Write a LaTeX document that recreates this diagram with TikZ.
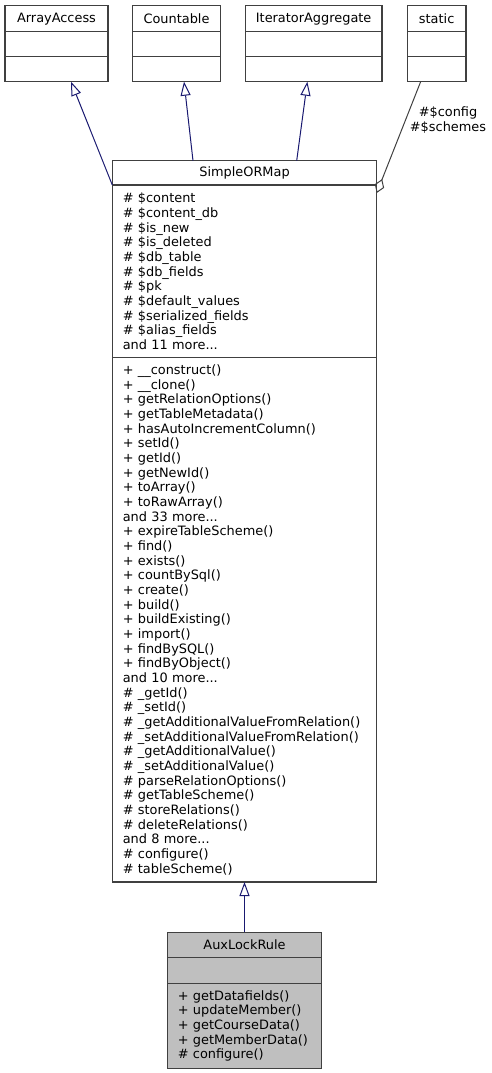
\documentclass[tikz,border=0pt]{standalone}
\usepackage{fontspec}
\setmainfont{DejaVu Sans}
\usepackage{xcolor}
\usepackage{tikz}
\usetikzlibrary{arrows.meta,positioning}
\definecolor{edgeblue}{HTML}{191970}
\definecolor{boxgray}{HTML}{404040}
\definecolor{mainfill}{HTML}{BFBFBF}
\tikzset{
    umlfont/.style={font=\fontsize{12.9}{14.66}\selectfont},
    classhead/.style={rectangle, draw=boxgray, line width=1.3pt, fill=white, umlfont, inner sep=0pt, outer sep=0pt, text centered},
    classpart/.style={rectangle, draw=boxgray, line width=1.3pt, fill=white, umlfont, inner xsep=10.5pt, inner ysep=0pt, outer sep=0pt, align=left},
    inherit/.style={draw=edgeblue, line width=1pt, -{Triangle[open, length=14pt, width=10pt]}},
    uses/.style={draw=boxgray, line width=1pt, -{Diamond[open, length=15pt, width=10pt]}}
}

\begin{document}
\begin{tikzpicture}[x=1pt, y=-1pt]
    \useasboundingbox (0,0) rectangle (491,1073);

    % interfaces on top
    \node[classhead, minimum width=103pt, minimum height=26pt, anchor=north west] (arrayaccess) at (5,5.7) {ArrayAccess};
    \node[classpart, text width=82pt, minimum height=25pt, below=0pt of arrayaccess] (arrayaccessattr) {};
    \node[classpart, text width=82pt, minimum height=25pt, below=0pt of arrayaccessattr] (arrayaccessmeth) {};

    \node[classhead, minimum width=87.6pt, minimum height=26pt, anchor=north west] (countable) at (132.7,5.7) {Countable};
    \node[classpart, text width=66.6pt, minimum height=25pt, below=0pt of countable] (countableattr) {};
    \node[classpart, text width=66.6pt, minimum height=25pt, below=0pt of countableattr] (countablemeth) {};

    \node[classhead, minimum width=136.7pt, minimum height=26pt, anchor=north west] (iteratoraggregate) at (245.3,5.7) {IteratorAggregate};
    \node[classpart, text width=115.7pt, minimum height=25pt, below=0pt of iteratoraggregate] (iteratoraggregateattr) {};
    \node[classpart, text width=115.7pt, minimum height=25pt, below=0pt of iteratoraggregateattr] (iteratoraggregatemeth) {};

    \node[classhead, minimum width=58.7pt, minimum height=26pt, anchor=north west] (static) at (407.3,5.7) {static};
    \node[classpart, text width=37.7pt, minimum height=25pt, below=0pt of static] (staticattr) {};
    \node[classpart, text width=37.7pt, minimum height=25pt, below=0pt of staticattr] (staticmeth) {};

    % base class
    \node[classhead, minimum width=264.4pt, minimum height=24.3pt, anchor=north west] (simpleormap) at (112.3,160.7) {SimpleORMap};
    \node[classpart, text width=243.4pt, minimum height=172.5pt, below=0pt of simpleormap] (simpleormapattr) {%
        \# \$content\\
        \# \$content\_db\\
        \# \$is\_new\\
        \# \$is\_deleted\\
        \# \$db\_table\\
        \# \$db\_fields\\
        \# \$pk\\
        \# \$default\_values\\
        \# \$serialized\_fields\\
        \# \$alias\_fields\\
        and 11 more...};
    \node[classpart, text width=243.4pt, minimum height=524.5pt, below=0pt of simpleormapattr] (simpleormapmeth) {%
        + \_\_construct()\\
        + \_\_clone()\\
        + getRelationOptions()\\
        + getTableMetadata()\\
        + hasAutoIncrementColumn()\\
        + setId()\\
        + getId()\\
        + getNewId()\\
        + toArray()\\
        + toRawArray()\\
        and 33 more...\\
        + expireTableScheme()\\
        + find()\\
        + exists()\\
        + countBySql()\\
        + create()\\
        + build()\\
        + buildExisting()\\
        + import()\\
        + findBySQL()\\
        + findByObject()\\
        and 10 more...\\
        \# \_getId()\\
        \# \_setId()\\
        \# \_getAdditionalValueFromRelation()\\
        \# \_setAdditionalValueFromRelation()\\
        \# \_getAdditionalValue()\\
        \# \_setAdditionalValue()\\
        \# parseRelationOptions()\\
        \# getTableScheme()\\
        \# storeRelations()\\
        \# deleteRelations()\\
        and 8 more...\\
        \# configure()\\
        \# tableScheme()};

    % derived class
    \node[classhead, fill=mainfill, minimum width=154.4pt, minimum height=25.4pt, anchor=north west] (auxlockrule) at (167.3,932.3) {AuxLockRule};
    \node[classpart, fill=mainfill, text width=133.4pt, minimum height=25.6pt, below=0pt of auxlockrule] (auxlockruleattr) {};
    \node[classpart, fill=mainfill, text width=133.4pt, minimum height=85pt, below=0pt of auxlockruleattr] (auxlockrulemeth) {%
        + getDatafields()\\
        + updateMember()\\
        + getCourseData()\\
        + getMemberData()\\
        \# configure()};

    \node[umlfont, align=center, inner sep=0pt] (staticlabel) at (448,120) {\#\$config\\\#\$schemes};

    \draw[inherit] (simpleormap.south west) -- ([xshift=14.5pt]arrayaccessmeth.south);
    \draw[inherit] ([xshift=-51.5pt]simpleormap.north) -- ([xshift=7.5pt]countablemeth.south);
    \draw[inherit] ([xshift=52.2pt]simpleormap.north) -- ([xshift=-6.3pt]iteratoraggregatemeth.south);
    \draw[uses] ([xshift=-16pt]staticmeth.south) -- ([yshift=-8pt]simpleormapattr.north east);
    \draw[inherit] (auxlockrule.north) -- (simpleormapmeth.south);
\end{tikzpicture}
\end{document}
